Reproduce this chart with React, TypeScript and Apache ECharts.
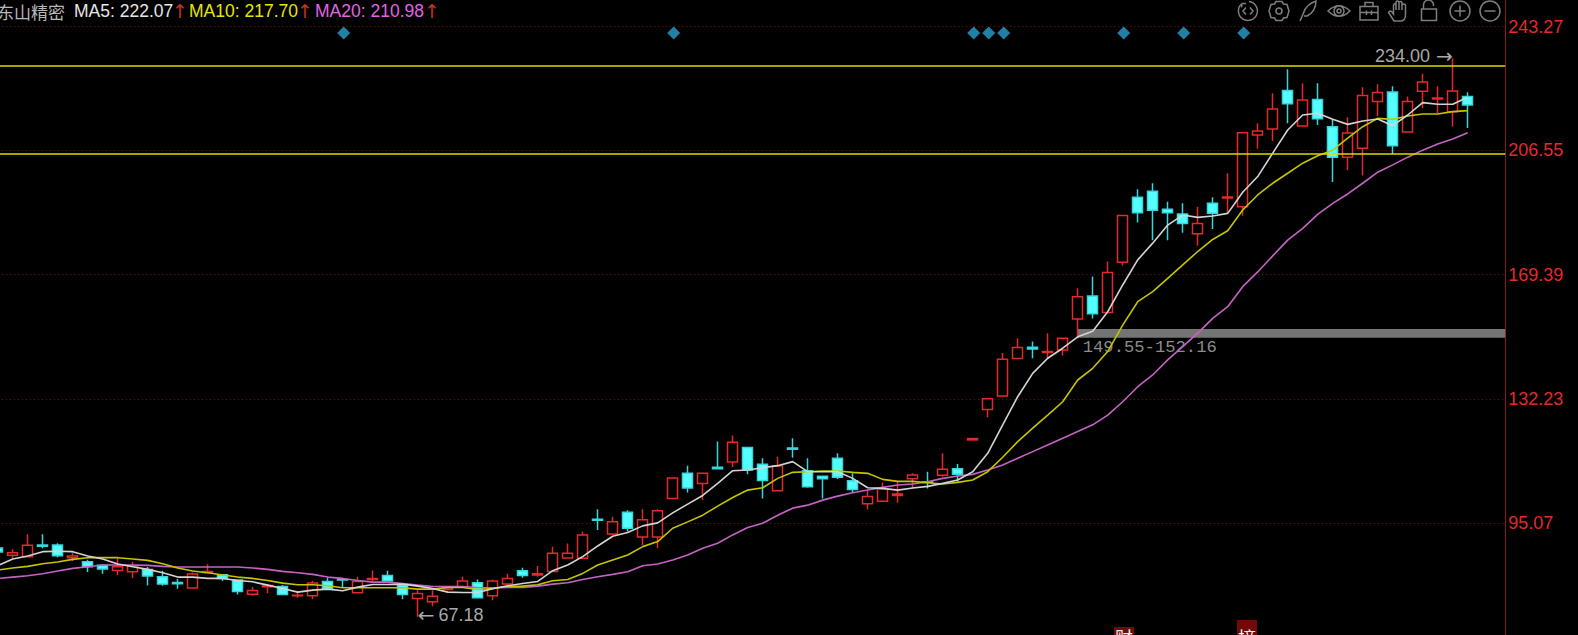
import React, { useEffect, useRef } from "react";
import * as echarts from "echarts";

// [open, close, low, high]
const candles: number[][] = [
  [87.7,86.5,86.2,88.0],[85.5,86.3,84.6,87.3],[85.1,88.5,84.9,91.8],[88.6,88.2,87.6,91.8],[88.6,85.4,84.9,89.1],
  [84.8,85.3,83.8,86.3],[83.6,82.1,80.5,84.2],[82.5,81.4,80.0,82.6],[81.0,82.1,79.6,84.6],[80.6,82.4,78.7,83.6],
  [81.3,79.3,76.5,82.0],[79.1,76.9,76.4,80.9],[77.4,77.0,75.5,78.4],[75.7,79.9,75.7,80.4],[80.4,80.7,80.3,82.8],
  [79.7,78.6,77.8,79.9],[78.1,74.7,73.8,78.3],[73.9,75.0,73.4,76.0],[76.1,76.5,74.2,76.9],[76.2,73.8,73.8,76.6],
  [73.4,73.6,72.8,74.9],[73.4,77.2,72.4,77.8],[77.7,75.6,75.5,78.9],[78.3,78.1,76.0,78.6],[74.3,77.7,74.2,79.1],
  [78.3,78.6,77.8,81.0],[79.5,77.8,77.6,80.9],[76.6,73.8,72.4,76.8],[72.6,74.1,67.18,75.1],[71.6,73.3,70.3,75.1],
  [75.3,75.8,75.0,76.1],[76.1,77.8,76.0,79.1],[77.3,72.8,72.7,78.3],[73.4,77.8,72.1,78.3],[76.9,78.6,76.2,80.0],
  [80.9,79.5,78.8,81.8],[79.6,80.0,79.1,82.3],[80.7,86.1,80.5,88.1],[84.7,86.1,84.7,89.0],[84.6,91.6,84.5,92.6],
  [96.3,96.0,93.1,99.3],[91.9,95.5,91.6,97.0],[98.4,93.6,92.6,99.0],[91.0,96.1,88.5,99.3],[91.0,98.8,87.7,99.3],
  [102.5,108.6,102.2,108.8],[110.0,105.6,104.3,112.3],[107.0,110.0,102.0,110.1],[111.8,111.4,111.2,119.5],[113.4,119.3,111.9,121.3],
  [117.7,111.0,109.7,117.7],[112.7,107.9,102.5,114.5],[104.8,112.2,104.8,115.0],[117.6,117.2,114.7,120.5],[110.8,106.0,105.7,114.5],
  [109.1,108.4,102.5,109.2],[114.5,108.8,108.3,116.0],[107.8,105.2,104.2,110.0],[100.9,103.1,99.3,105.0],[101.7,105.3,101.7,107.3],
  [103.4,103.8,101.2,107.5],[108.4,109.5,105.5,110.0],[107.5,107.3,105.5,110.5],[109.4,111.2,109.0,116.0],[111.4,109.7,107.5,112.8],
  [120.0,120.4,120.0,120.4],[129.1,132.3,126.8,132.3],[133.1,144.1,133.1,146.0],[144.3,147.6,144.3,150.4],[147.7,147.2,144.4,149.4],
  [146.1,146.4,144.1,151.9],[146.9,150.4,145.2,150.4],[156.1,162.8,150.4,165.3],[163.0,157.7,156.3,168.8],[158.1,170.0,157.8,173.3],
  [173.1,187.1,172.1,187.1],[192.5,187.9,185.0,194.9],[194.3,188.6,179.7,196.7],[188.9,187.9,179.7,191.2],[187.5,184.7,181.9,190.7],
  [181.6,184.7,178.0,189.7],[190.7,187.7,183.0,192.5],[192.3,192.6,187.7,199.7],[189.7,211.8,187.0,211.8],[211.1,212.3,207.0,214.6],
  [212.9,218.9,209.3,223.6],[224.4,220.5,214.6,230.8],[213.8,221.6,213.8,226.6],[221.7,216.0,214.1,226.6],[213.6,204.5,197.1,215.9],
  [204.5,211.7,200.7,216.4],[207.2,222.9,199.0,225.4],[221.1,223.8,216.8,226.3],[224.0,207.9,205.4,225.7],[212.0,221.1,212.0,222.6],
  [224.2,227.0,219.1,229.4],[221.9,222.2,217.6,225.7],[218.1,224.3,213.7,234.0],[222.6,220.1,213.2,223.9],
];
const ma5: number[] = [
  82.4,84.4,85.3,86.6,86.7,86.6,85.3,84.4,82.9,82.1,81.3,80.3,79.0,79.0,78.6,78.6,78.0,77.6,76.6,75.6,
  74.5,75.1,75.4,74.9,76.0,76.8,76.8,76.9,76.3,75.6,74.5,74.4,74.4,75.5,76.4,77.1,77.7,80.9,82.6,85.1,
  88.3,91.2,92.3,94.3,95.2,98.2,100.8,103.4,107.0,110.8,111.0,111.7,112.3,113.5,110.5,110.5,110.5,108.5,105.7,105.5,
  105.0,105.6,106.1,107.0,108.0,110.5,116.0,124.5,132.9,139.9,144.4,147.4,150.8,152.5,158.3,166.3,173.8,178.8,184.2,187.2,
  186.5,186.9,187.7,194.0,198.7,205.7,212.6,217.1,217.6,215.8,214.3,215.3,215.9,213.9,217.1,220.8,220.3,220.3,222.4,
];
const ma10: number[] = [
  81.1,81.7,82.2,83.0,83.5,84.3,84.8,84.8,84.8,84.4,84.0,83.0,81.7,80.8,80.3,79.6,79.0,78.6,78.0,77.2,
  76.7,76.7,76.4,75.8,75.8,75.8,75.8,75.8,75.4,75.4,75.9,75.9,75.3,75.6,76.2,76.3,76.7,77.9,78.3,80.1,
  82.6,84.1,85.6,88.1,89.6,93.6,95.5,97.5,100.2,102.8,105.0,105.7,108.5,110.3,110.5,110.7,110.7,110.3,110.0,108.2,
  107.6,107.6,107.2,106.8,107.3,108.0,110.5,114.8,119.5,123.5,127.4,131.4,137.9,141.4,146.4,154.3,161.3,164.3,168.3,172.3,
  176.3,179.9,182.5,188.7,193.2,196.7,199.7,202.7,204.9,206.6,210.2,213.6,216.1,215.8,216.8,217.4,217.4,218.1,218.4,
];
const ma20: number[] = [
  78.6,79.0,79.4,80.0,80.8,81.6,82.1,82.6,82.6,82.6,82.5,82.2,82.0,82.0,82.0,82.0,82.0,81.7,81.3,80.7,
  80.3,79.8,79.0,78.6,78.0,77.5,77.5,77.1,76.6,76.2,76.2,76.2,75.9,75.8,75.9,75.9,76.3,76.9,77.3,78.3,
  79.1,79.8,80.6,82.4,82.9,84.1,85.6,87.6,89.1,91.6,93.8,95.1,97.5,99.6,100.5,102.0,103.2,104.2,105.0,105.8,
  106.5,106.8,107.5,108.5,109.2,109.7,111.0,112.5,114.5,116.5,118.5,120.5,122.5,124.5,127.4,131.4,135.9,139.4,143.9,147.9,
  151.9,156.3,159.8,165.8,170.2,175.0,179.7,183.2,187.4,190.7,193.5,196.7,200.0,202.2,204.5,206.6,208.4,209.9,211.8,
];
const categories: string[] = [...candles.map((_, i) => String(i + 1)), "", ""];
const yGridLines = [95.07, 132.23, 169.39, 206.55, 243.71];
const yLabelValues = [95.07, 132.23, 169.39, 206.55, 243.27];
const levelLines = [231.84, 205.45];
const diamondCandles = [23, 45, 65, 66, 67, 75, 79, 83];
const diamondLevel = 241.6;
const gapZone = [[72, 150.54, 153.14]];
const gapLabel = "149.55-152.16";
const highPoint = { index: 97, value: 234.0, text: "234.00" };
const lowPoint = { index: 28, value: 67.18, text: "67.18" };
const stockName = "东山精密";
const maLegend = [
  { text: "MA5: 222.07", x: 74, arrowX: 172, color: "#e6e6e6" },
  { text: "MA10: 217.70", x: 189, arrowX: 297, color: "#e6e600" },
  { text: "MA20: 210.98", x: 315, arrowX: 424, color: "#e264e2" },
];
const eventTags = [
  { text: "财", x: 1114, top: 627, textY: 637 },
  { text: "摘", x: 1237, top: 620, textY: 637 },
];

const iconPaths: Record<string, string> = {
  tbRefresh: "M-6 -7.5 A9.5 9.5 0 1 0 1 -9.5 M-6 -7.5 L-6.5 -3.5 M-6 -7.5 L-2 -7.5 M-2 -3.5 L-5 0 L-2 3.5 M2 -3.5 L5 0 L2 3.5",
  tbGear: "M-3 -9.5 L3 -9.5 L4.5 -7 L8 -6.5 L10 0 L8 6.5 L4.5 7 L3 9.5 L-3 9.5 L-4.5 7 L-8 6.5 L-10 0 L-8 -6.5 L-4.5 -7 Z M3 0 A3 3 0 1 0 -3 0 A3 3 0 1 0 3 0",
  tbFeather: "M-8 10 L-4.5 2 C-3 -4 3 -8.5 8 -10 C8 -4 5 2.5 -1 5 L-4 5 M-4.5 2 L-8 10",
  tbEye: "M-11 0 Q0 -10.5 11 0 Q0 10.5 -11 0 Z M5 0 A5 5 0 1 0 -5 0 A5 5 0 1 0 5 0 M2 0 A2 2 0 1 0 -2 0 A2 2 0 1 0 2 0",
  tbBox: "M-9 -4.5 L9 -4.5 L9 9 L-9 9 Z M-4 -4.5 L-4 -8.5 L4 -8.5 L4 -4.5 M-9 1.5 L9 1.5 M-2.5 -0.5 L-2.5 4 M2.5 -0.5 L2.5 4",
  tbHand: "M-5 10 L-10.5 1.5 Q-9.5 -1 -7 1 L-5.5 3 L-5.5 -6 Q-4.5 -8.5 -3 -6 L-3 -1 L-3 -9 Q-1.5 -11 0 -9 L0 -1 L0 -8.5 Q1.5 -10.5 3 -8.5 L3 -1 L3 -6 Q5 -8 6.5 -6 L6.5 3 Q6.5 10 2 10 Z",
  tbLock: "M-7.5 -2 L7.5 -2 L7.5 9.5 L-7.5 9.5 Z M-5.5 -2 L-5.5 -6 A5 5 0 0 1 4.5 -6 L4.5 -5",
  tbPlus: "M10 0 A10 10 0 1 0 -10 0 A10 10 0 1 0 10 0 M-5.5 0 L5.5 0 M0 -5.5 L0 5.5",
  tbMinus: "M10 0 A10 10 0 1 0 -10 0 A10 10 0 1 0 10 0 M-5.5 0 L5.5 0",
};
const toolbarIcons = [
  { shape: "tbRefresh", x: 1248 },
  { shape: "tbGear", x: 1279 },
  { shape: "tbFeather", x: 1308 },
  { shape: "tbEye", x: 1339 },
  { shape: "tbBox", x: 1369 },
  { shape: "tbHand", x: 1399 },
  { shape: "tbLock", x: 1429 },
  { shape: "tbPlus", x: 1460 },
  { shape: "tbMinus", x: 1490 },
];
Object.keys(iconPaths).forEach((name) => {
  echarts.graphic.registerShape(name, echarts.graphic.extendPath(iconPaths[name], {}) as any);
});

const LATIN = '"Liberation Sans", Arial, sans-serif';
const ARROW = '"DejaVu Sans", sans-serif';
const RED = "#e32a2a";
const CYAN = "#54ffff";
const CYAN_EDGE = "#38d6dc";

export default function App() {
  const ref = useRef<HTMLDivElement>(null);
  useEffect(() => {
    document.body.style.margin = "0";
    document.body.style.background = "#000";
    document.body.style.overflow = "hidden";
    const chart = echarts.init(ref.current!, undefined, { renderer: "svg" });
    const maSeries = (name: string, data: number[], color: string) => ({
      name,
      type: "line",
      data,
      symbol: "none",
      smooth: false,
      z: 4,
      lineStyle: { color, width: 1.6 },
    });
    const pointLabel = (text: string, left: boolean) => ({
      show: true,
      position: left ? "left" : "right",
      distance: 0,
      offset: [0, -2],
      formatter: left ? `{t|${text}}{a|→}` : `{a|←}{t|${text}}`,
      rich: {
        t: { color: "#a8a8a8", fontSize: 18, fontFamily: LATIN },
        a: { color: "#a8a8a8", fontSize: 20, fontFamily: ARROW, padding: left ? [0, 0, 0, 6] : [0, 4, 0, 0] },
      },
    });
    chart.setOption({
      animation: false,
      backgroundColor: "#000",
      grid: { left: -9.8, width: 1515, top: 0, height: 635, outerBoundsMode: "none", containLabel: false },
      xAxis: {
        type: "category",
        data: categories,
        boundaryGap: true,
        axisLine: { show: false },
        axisTick: { show: false },
        axisLabel: { show: false },
        splitLine: { show: false },
      },
      yAxis: {
        type: "value",
        position: "right",
        min: 61.69,
        max: 251.47,
        axisLine: { show: true, lineStyle: { color: "#8e1616", width: 1 } },
        axisTick: { show: false, customValues: yGridLines },
        axisLabel: {
          customValues: yLabelValues,
          color: RED,
          fontSize: 18,
          fontFamily: LATIN,
          margin: 3,
          formatter: (v: number) => v.toFixed(2),
        },
        splitLine: { show: true, lineStyle: { color: "#8a1212", width: 1, type: [1, 3] } },
      },
      series: [
        {
          name: "gap",
          type: "custom",
          z: 1,
          silent: true,
          data: gapZone,
          encode: { x: 0, y: [1, 2] },
          renderItem: (params: any, api: any) => {
            const start = api.coord([api.value(0), api.value(2)]);
            const end = api.coord([api.value(0), api.value(1)]);
            const right = params.coordSys.x + params.coordSys.width;
            return {
              type: "group",
              silent: true,
              children: [
                {
                  type: "rect",
                  shape: { x: start[0], y: start[1], width: right - start[0], height: end[1] - start[1] },
                  style: { fill: "#757575" },
                },
                {
                  type: "text",
                  x: start[0] + 5,
                  y: end[1] + 10,
                  style: {
                    text: gapLabel,
                    fill: "#8c8c8c",
                    font: '17.2px "Liberation Mono", monospace',
                    verticalAlign: "middle",
                    align: "left",
                  },
                },
              ],
            };
          },
        },
        {
          name: "K",
          type: "candlestick",
          data: candles,
          barWidth: 10,
          z: 2,
          itemStyle: {
            color: "#000",
            color0: CYAN,
            borderColor: RED,
            borderColor0: CYAN_EDGE,
            borderWidth: 1.5,
          },
          markLine: {
            silent: true,
            symbol: "none",
            animation: false,
            label: { show: false },
            lineStyle: { color: "#dcdc00", width: 1.6, type: "solid" },
            data: levelLines.map((v) => ({ yAxis: v })),
          },
          markPoint: {
            silent: true,
            symbol: "circle",
            symbolSize: 0,
            animation: false,
            itemStyle: { color: "transparent" },
            data: [
              { coord: [highPoint.index, highPoint.value], label: pointLabel(highPoint.text, true) },
              { coord: [lowPoint.index, lowPoint.value], label: pointLabel(lowPoint.text, false) },
            ],
          },
        },
        maSeries("MA20", ma20, "#c563c5"),
        maSeries("MA10", ma10, "#c4c400"),
        maSeries("MA5", ma5, "#d4d4d4"),
        {
          name: "events",
          type: "scatter",
          z: 5,
          symbol: "diamond",
          symbolSize: 13,
          symbolOffset: [1, 0],
          itemStyle: { color: "#2b9fd0" },
          data: diamondCandles.map((i) => [i, diamondLevel]),
        },
      ],
      graphic: [
        {
          type: "text", x: -3, y: 11, silent: true,
          style: {
            text: stockName, fill: "#b8b8b8", verticalAlign: "middle",
            font: '17px "Noto Sans CJK SC", sans-serif',
          },
        },
        ...maLegend.flatMap((m) => [
          {
            type: "text", x: m.x, y: 11, silent: true,
            style: { text: m.text, fill: m.color, verticalAlign: "middle", font: `17.5px ${LATIN}` },
          },
          {
            type: "text", x: m.arrowX, y: 11, silent: true,
            style: { text: "↑", fill: "#c23322", verticalAlign: "middle", font: `19px ${ARROW}` },
          },
        ]),
        ...toolbarIcons.map((ic) => ({
          type: ic.shape, x: ic.x, y: 11, silent: true,
          style: { fill: "none", stroke: "#7e7e7e", lineWidth: 1.5 },
        })),
        ...eventTags.flatMap((t) => [
          {
            type: "rect", silent: true,
            shape: { x: t.x, y: t.top, width: 20, height: 635 - t.top },
            style: { fill: "#720a0a" },
          },
          {
            type: "text", x: t.x + 10, y: t.textY, silent: true,
            style: {
              text: t.text, fill: "#eeeeee", align: "center", verticalAlign: "middle",
              font: '18px "Noto Sans CJK SC", sans-serif',
            },
          },
        ]),
      ],
    });
    return () => chart.dispose();
  }, []);
  return <div ref={ref} style={{ width: 1578, height: 635, display: "block" }} />;
}
